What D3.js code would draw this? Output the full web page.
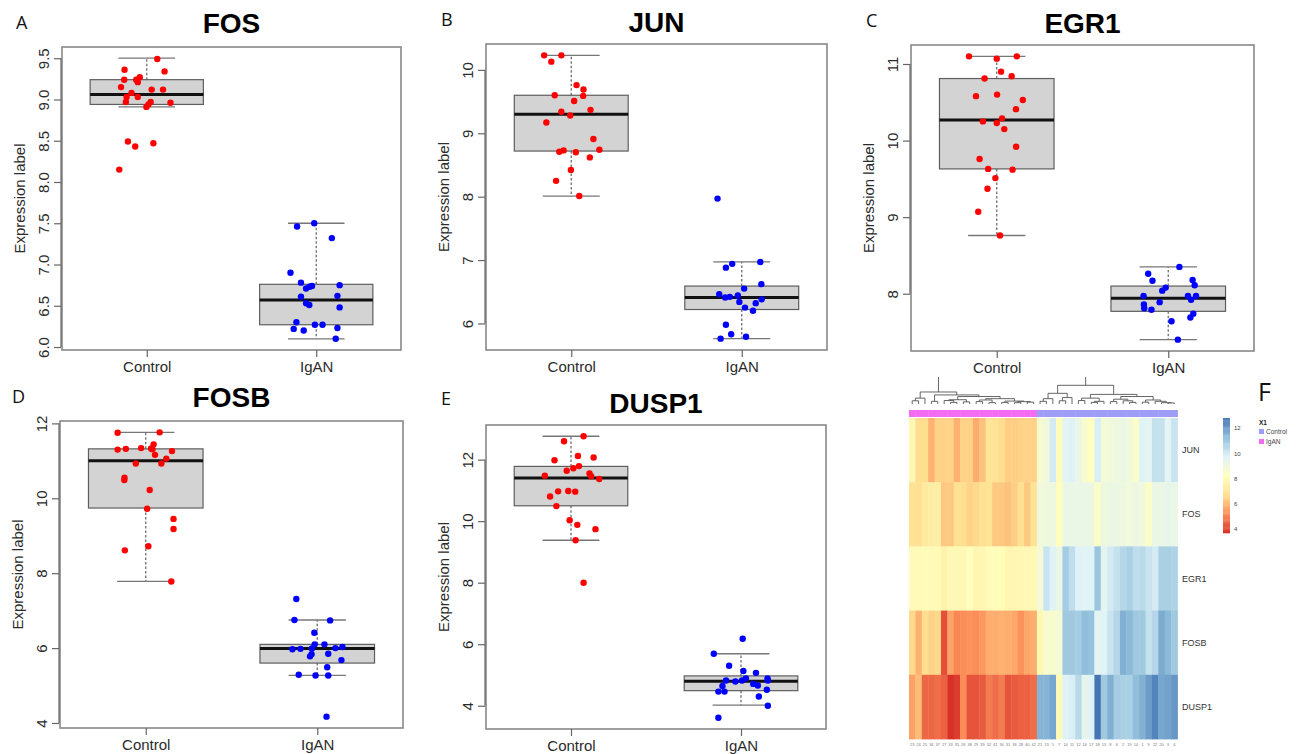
<!DOCTYPE html>
<html>
<head>
<meta charset="utf-8">
<script src="https://cdn.jsdelivr.net/npm/d3@7"></script>
<style>
  body { margin: 0; background: #fff; }
  svg { display: block; }
</style>
</head>
<body>
<svg id="fig" width="1302" height="754"></svg>
<script>
// ---------- Box plot data: [jitter offset (category units), expression] ----------
const groups = ["Control", "IgAN"];

const fosControlPts = [[0.062,9.49],[-0.131,9.36],[0.105,9.34],[-0.133,9.24],[-0.062,9.24],[-0.041,9.27],[-0.053,9.21],[-0.152,9.15],[0.029,9.12],[0.096,9.12],[-0.090,9.08],[-0.119,9.03],[-0.053,9.03],[-0.123,8.97],[0.023,8.97],[0.140,8.96],[0.010,8.94],[-0.002,8.91],[-0.111,8.49],[-0.068,8.43],[0.039,8.47],[-0.162,8.15]];
const fosIganPts = [[-0.012,7.50],[-0.113,7.46],[0.092,7.32],[-0.152,6.90],[-0.090,6.78],[-0.060,6.71],[-0.039,6.73],[-0.025,6.74],[0.138,6.75],[-0.090,6.61],[0.125,6.62],[-0.060,6.53],[-0.041,6.51],[0.138,6.48],[-0.117,6.30],[-0.008,6.27],[0.037,6.27],[-0.133,6.22],[-0.074,6.20],[0.125,6.23],[0.115,6.10]];
// [lower whisker, Q1, median, Q3, upper whisker]
const fosStats = [[8.91,8.94,9.06,9.24,9.50],[6.10,6.27,6.57,6.76,7.50]];
const fosTicks = [6.0,6.5,7.0,7.5,8.0,8.5,9.0,9.5];

const junControlPts = [[-0.159,10.23],[-0.058,10.23],[-0.117,10.13],[0.031,9.76],[0.072,9.69],[0.070,9.59],[-0.097,9.60],[0.017,9.51],[-0.058,9.34],[0.113,9.37],[-0.006,9.28],[-0.146,9.17],[0.130,8.91],[-0.070,8.71],[-0.045,8.73],[0.027,8.70],[0.165,8.74],[0.109,8.62],[-0.002,8.42],[-0.089,8.25],[0.047,8.01]];
const junIganPts = [[-0.142,7.97],[-0.093,6.88],[-0.056,6.94],[0.109,6.97],[0.115,6.62],[0.014,6.55],[-0.132,6.46],[-0.097,6.41],[-0.070,6.42],[-0.023,6.44],[-0.014,6.34],[0.019,6.25],[0.082,6.32],[0.117,6.38],[0.066,6.20],[-0.093,5.98],[-0.062,5.83],[-0.124,5.76],[0.025,5.79]];
const junStats = [[8.01,8.72,9.30,9.60,10.23],[5.76,6.22,6.41,6.59,6.97]];
const junTicks = [6,7,8,9,10];

const egr1ControlPts = [[-0.162,11.10],[0.117,11.10],[0.000,11.07],[0.025,10.90],[0.087,10.84],[-0.071,10.81],[-0.121,10.58],[0.002,10.60],[0.152,10.53],[0.112,10.41],[-0.081,10.25],[0.000,10.23],[0.031,10.29],[0.044,10.15],[0.113,9.92],[-0.100,9.76],[-0.050,9.63],[0.092,9.62],[-0.008,9.51],[-0.054,9.37],[-0.108,9.07],[0.019,8.76]];
const egr1IganPts = [[0.065,8.35],[-0.117,8.26],[-0.092,8.17],[0.142,8.18],[0.154,8.11],[-0.015,8.08],[-0.035,8.04],[-0.144,7.97],[0.115,7.97],[0.162,7.97],[0.133,7.92],[-0.050,7.89],[-0.142,7.86],[-0.140,7.81],[-0.098,7.79],[0.146,7.74],[0.129,7.69],[0.019,7.64],[0.056,7.40]];
const egr1Stats = [[8.76,9.63,10.27,10.81,11.10],[7.40,7.77,7.94,8.10,8.35]];
const egr1Ticks = [8,9,10,11];

const fosbControlPts = [[-0.164,11.75],[0.081,11.76],[-0.164,11.30],[-0.116,11.32],[-0.027,11.34],[0.031,11.33],[0.046,11.44],[0.039,11.31],[0.153,11.26],[0.054,11.16],[0.120,11.06],[-0.058,10.93],[0.091,10.93],[-0.124,10.55],[-0.125,10.49],[0.023,10.22],[0.008,9.72],[0.162,9.45],[0.162,9.18],[0.015,8.72],[-0.122,8.61],[0.149,7.78]];
const fosbIganPts = [[-0.122,7.31],[-0.133,6.75],[0.075,6.74],[-0.017,6.41],[-0.015,6.10],[0.042,6.10],[-0.145,5.97],[-0.098,5.98],[-0.031,5.99],[0.106,6.00],[0.147,6.03],[-0.033,5.84],[-0.042,5.78],[0.064,5.85],[0.141,5.68],[0.058,5.49],[-0.108,5.29],[-0.010,5.27],[0.064,5.27],[0.054,4.17]];
const fosbStats = [[7.78,9.74,11.00,11.32,11.76],[5.27,5.60,5.99,6.10,6.75]];
const fosbTicks = [4,6,8,10,12];

const dusp1ControlPts = [[0.074,12.76],[-0.041,12.60],[0.041,12.12],[-0.097,11.98],[0.133,12.07],[-0.025,11.64],[0.014,11.72],[0.047,11.79],[0.109,11.55],[0.119,11.46],[-0.154,11.48],[0.166,11.37],[-0.123,10.80],[-0.076,10.97],[-0.016,10.98],[0.025,10.96],[-0.086,10.49],[-0.008,10.03],[0.037,9.88],[0.144,9.74],[0.027,9.38],[0.074,8.00]];
const dusp1IganPts = [[0.010,6.18],[-0.160,5.69],[-0.070,5.30],[0.014,5.13],[0.088,5.07],[0.156,4.89],[-0.088,4.82],[-0.033,4.79],[0.006,4.82],[0.029,4.89],[0.072,4.71],[0.099,4.66],[-0.109,4.64],[0.158,4.82],[-0.133,4.46],[-0.097,4.46],[0.152,4.52],[0.105,4.30],[0.158,4.00],[-0.133,3.61]];
const dusp1Stats = [[9.38,10.50,11.40,11.78,12.76],[4.02,4.49,4.80,4.97,5.69]];
const dusp1Ticks = [4,6,8,10,12];

// ---------- Heatmap data (20 IgAN samples, then 22 Control samples) ----------
const heatGenes = ["JUN", "FOS", "EGR1", "FOSB", "DUSP1"];
const sampleIds = ["23","24","25","34","37","27","33","35","26","38","29","39","32","41","30","31","36","28","40","42",
                   "21","13","5","7","14","11","12","16","17","18","15","8","6","2","19","10","1","9","22","20","3","4"];
const sampleGroups = [...Array(20).fill("IgAN"), ...Array(22).fill("Control")];
const junExpr = [7.9,6.7,6.7,5.9,6.5,6.5,6.5,5.9,6.5,6.5,5.8,6.2,7.0,6.9,6.7,6.4,6.4,6.5,6.5,6.5,
                 8.7,9.0,10.0,8.1,9.6,9.8,9.3,8.6,8.3,9.9,8.9,9.0,9.1,9.2,9.0,8.5,9.7,9.6,10.3,10.3,9.6,10.2];
const fosExpr = [6.9,6.8,7.2,7.4,7.4,6.3,6.3,6.8,6.7,6.5,6.6,6.8,6.9,6.3,6.3,6.2,6.4,6.8,6.3,6.9,
                 9.0,9.1,9.1,8.2,9.3,9.3,9.3,9.3,9.2,8.5,9.1,9.2,9.2,9.1,9.0,9.2,9.0,8.5,9.3,9.3,9.4,9.3];
const egr1Expr = [8.0,8.0,8.1,8.0,8.0,7.6,7.9,7.9,7.9,8.2,7.8,7.8,8.1,8.1,8.1,7.8,7.8,7.9,7.9,7.9,
                  8.8,10.2,9.7,9.3,10.9,10.4,9.8,9.7,9.8,11.1,9.6,10.0,10.3,10.6,10.8,10.4,10.5,10.2,10.0,10.8,10.8,10.7];
const fosbExpr = [6.6,5.9,6.7,6.5,6.6,4.2,5.6,5.1,5.2,5.3,5.2,5.4,5.8,5.8,5.9,5.8,5.7,5.3,5.7,5.8,
                  7.9,8.6,8.6,8.8,11.0,11.0,10.9,11.3,11.2,9.6,9.7,10.2,10.6,11.6,11.4,11.0,11.0,10.3,10.6,11.7,11.4,11.0];
const dusp1Expr = [5.6,6.1,4.6,4.6,4.7,4.5,3.7,3.9,5.2,4.3,4.3,4.4,4.9,4.7,4.9,4.3,4.4,4.5,4.5,4.7,
                   11.5,11.5,11.8,8.0,9.8,9.9,10.5,9.5,9.7,12.8,11.0,11.6,10.9,10.8,10.8,11.3,11.6,12.0,12.5,11.8,11.9,12.1];
const colorTicks = [4, 6, 8, 10, 12];
const legendGroups = ["Control", "IgAN"];

// Column clustering: [merge height, left, right]; leaves are column indices
const igaTree = [4.5,
  [2.2, [1.2, 0, 1], 2],
  [3.4, [1.0, 3, 4],
    [2.8,
      [1.6, [1.3, 5, [0.6, 6, 7]], [0.8, 8, 9]],
      [2.0, [1.5, [0.9, 10, 11], [0.5, 12, 13]], [1.1, [0.6, 14, 15], [0.9, [0.5, 16, 17], [0.7, 18, 19]]]]]]];
const ctrlTree = [7.0,
  [4.0, [2.0, [1.0, 20, 21], 22], [2.4, [1.2, 23, 24], 25]],
  [3.6,
    [2.2, [1.3, 26, 27], [1.0, [0.6, 28, 29], 30]],
    [2.8,
      [1.8, [0.9, 31, 32], [1.2, 33, [0.6, 34, 35]]],
      [1.5, [0.7, 36, 37], [1.0, 38, [0.5, 39, [0.4, 40, 41]]]]]]];
const colTree = [12, igaTree, ctrlTree];

// ---------- Drawing ----------
const svg = d3.select("#fig");
const SANS = "'Liberation Sans', Arial, Helvetica, sans-serif";
const LETTER = "'Open Sans', 'Noto Sans', sans-serif";

const panels = [
  { letter: "A", title: "FOS",   pts: [fosControlPts, fosIganPts],     stats: fosStats,   ticks: fosTicks,   fmt: d3.format(".1f"),
    frame: { l: 62, t: 47, r: 401, b: 350 },  titleY: 33,  letterPos: [16, 29] },
  { letter: "B", title: "JUN",   pts: [junControlPts, junIganPts],     stats: junStats,   ticks: junTicks,   fmt: d3.format("d"),
    frame: { l: 486, t: 44, r: 827, b: 350 }, titleY: 32,  letterPos: [441, 26] },
  { letter: "C", title: "EGR1",  pts: [egr1ControlPts, egr1IganPts],   stats: egr1Stats,  ticks: egr1Ticks,  fmt: d3.format("d"),
    frame: { l: 911, t: 45, r: 1254, b: 351 }, titleY: 33, letterPos: [866, 27] },
  { letter: "D", title: "FOSB",  pts: [fosbControlPts, fosbIganPts],   stats: fosbStats,  ticks: fosbTicks,  fmt: d3.format("d"),
    frame: { l: 60, t: 421, r: 403, b: 728 }, titleY: 407, letterPos: [12, 403] },
  { letter: "E", title: "DUSP1", pts: [dusp1ControlPts, dusp1IganPts], stats: dusp1Stats, ticks: dusp1Ticks, fmt: d3.format("d"),
    frame: { l: 486, t: 425, r: 826, b: 729 }, titleY: 413, letterPos: [441, 405] }
];

const pointColors = ["#ff0000", "#0000ff"];

function drawBoxPanel(p) {
  const f = p.frame;
  const g = svg.append("g");
  const values = [...p.stats.flat(), ...p.pts.flat().map(d => d[1])];
  const [lo, hi] = d3.extent(values);
  const pad = (hi - lo) * 0.04;
  const y = d3.scaleLinear().domain([lo - pad, hi + pad]).range([f.b, f.t]);
  const x = d3.scaleLinear().domain([0.5, 2.5]).range([f.l, f.r]);
  const boxHalf = 0.334, capHalf = 0.167;

  // boxes, whiskers, medians
  p.stats.forEach((s, i) => {
    const c = i + 1;
    const [wl, q1, med, q3, wh] = s;
    const bg = g.append("g");
    bg.append("line").attr("x1", x(c)).attr("x2", x(c)).attr("y1", y(q3)).attr("y2", y(wh))
      .attr("stroke", "#6e6e6e").attr("stroke-width", 1.3).attr("stroke-dasharray", "2.5,2");
    bg.append("line").attr("x1", x(c)).attr("x2", x(c)).attr("y1", y(q1)).attr("y2", y(wl))
      .attr("stroke", "#6e6e6e").attr("stroke-width", 1.3).attr("stroke-dasharray", "2.5,2");
    [wl, wh].forEach(v => {
      bg.append("line").attr("x1", x(c - capHalf)).attr("x2", x(c + capHalf)).attr("y1", y(v)).attr("y2", y(v))
        .attr("stroke", "#777").attr("stroke-width", 1.3);
    });
    bg.append("rect").attr("x", x(c - boxHalf)).attr("width", x(c + boxHalf) - x(c - boxHalf))
      .attr("y", y(q3)).attr("height", y(q1) - y(q3))
      .attr("fill", "#d3d3d3").attr("stroke", "#5e5e5e").attr("stroke-width", 1.2);
    bg.append("line").attr("x1", x(c - boxHalf)).attr("x2", x(c + boxHalf)).attr("y1", y(med)).attr("y2", y(med))
      .attr("stroke", "#111").attr("stroke-width", 3);
  });

  // jittered points
  p.pts.forEach((arr, i) => {
    g.append("g").selectAll("circle").data(arr).join("circle")
      .attr("cx", d => x(i + 1 + d[0])).attr("cy", d => y(d[1])).attr("r", 3.2)
      .attr("fill", pointColors[i]);
  });

  // frame
  g.append("rect").attr("x", f.l).attr("y", f.t).attr("width", f.r - f.l).attr("height", f.b - f.t)
    .attr("fill", "none").attr("stroke", "#888").attr("stroke-width", 1.6);

  // y axis
  const ya = g.append("g").attr("transform", `translate(${f.l - 1},0)`)
    .call(d3.axisLeft(y).tickValues(p.ticks).tickSize(7).tickFormat(p.fmt));
  ya.select(".domain").remove();
  ya.append("line").attr("x1", 0).attr("x2", 0)
    .attr("y1", y(p.ticks[0])).attr("y2", y(p.ticks[p.ticks.length - 1]))
    .attr("stroke", "#666").attr("stroke-width", 1.2);
  ya.selectAll(".tick line").attr("stroke", "#666").attr("stroke-width", 1.2);
  ya.selectAll(".tick text")
    .attr("transform", "rotate(-90)").attr("x", 0).attr("y", -12).attr("dy", 0)
    .attr("text-anchor", "middle").attr("fill", "#2b2b2b")
    .style("font-family", SANS).style("font-size", "15px");

  // x axis
  const xa = g.append("g").attr("transform", `translate(0,${f.b})`)
    .call(d3.axisBottom(x).tickValues([1, 2]).tickSize(7).tickFormat(d => groups[d - 1]));
  xa.select(".domain").remove();
  xa.selectAll(".tick line").attr("stroke", "#666").attr("stroke-width", 1.2);
  xa.selectAll(".tick text").attr("y", 22).attr("dy", 0).attr("fill", "#2b2b2b")
    .style("font-family", SANS).style("font-size", "15px");

  // y axis title
  g.append("text").attr("transform", `translate(${f.l - 37},${(f.t + f.b) / 2}) rotate(-90)`)
    .attr("text-anchor", "middle").attr("fill", "#2b2b2b")
    .style("font-family", SANS).style("font-size", "15px").text("Expression label");

  // panel title and letter
  g.append("text").attr("x", (f.l + f.r) / 2).attr("y", p.titleY).attr("text-anchor", "middle")
    .attr("fill", "#000").style("font-family", SANS).style("font-weight", "bold").style("font-size", "28px")
    .text(p.title);
  g.append("text").attr("x", p.letterPos[0]).attr("y", p.letterPos[1]).attr("fill", "#111")
    .style("font-family", LETTER).style("font-size", "18px").text(p.letter);
}

panels.forEach(drawBoxPanel);

// ---------- Heatmap panel F ----------
(function drawHeatmap() {
  const hmX = [909, 1177.5], hmY = [418, 739];
  const exprRows = [junExpr, fosExpr, egr1Expr, fosbExpr, dusp1Expr];
  const xs = d3.scaleBand().domain(d3.range(sampleIds.length)).range(hmX);
  const ys = d3.scaleBand().domain(heatGenes).range(hmY);
  const [vmin, vmax] = d3.extent(exprRows.flat());
  const palette = ["#d73027", "#fc8d59", "#fee090", "#ffffbf", "#e0f3f8", "#91bfdb", "#4575b4"];
  const color = d3.scaleLinear()
    .domain(palette.map((_, i) => vmin + i * (vmax - vmin) / (palette.length - 1)))
    .range(palette).interpolate(d3.interpolateRgb);

  const g = svg.append("g");

  // cells
  heatGenes.forEach((gene, r) => {
    g.append("g").selectAll("rect").data(exprRows[r]).join("rect")
      .attr("x", (d, i) => xs(i)).attr("y", ys(gene))
      .attr("width", xs.bandwidth() + 0.4).attr("height", ys.bandwidth() + 0.4)
      .attr("fill", d => color(d));
  });

  // annotation bar
  const groupColor = d3.scaleOrdinal().domain(legendGroups).range(["#9d9cf6", "#f36cf2"]);
  g.append("g").selectAll("rect").data(sampleGroups).join("rect")
    .attr("x", (d, i) => xs(i)).attr("y", 410).attr("width", xs.bandwidth() + 0.4).attr("height", 7)
    .attr("fill", d => groupColor(d));

  // dendrogram
  const hy = d3.scaleLinear().domain([0, 1]).range([404, 401.33]);
  const dg = g.append("g");
  const clipId = "dendroClip";
  svg.append("defs").append("clipPath").attr("id", clipId)
    .append("rect").attr("x", 900).attr("y", 377).attr("width", 290).attr("height", 30);
  dg.attr("clip-path", `url(#${clipId})`);
  function layout(node) {
    if (typeof node === "number") return { x: xs(node) + xs.bandwidth() / 2, h: 0 };
    const [h, a, b] = node;
    const A = layout(a), B = layout(b);
    dg.append("path")
      .attr("d", `M${A.x},${hy(A.h)}V${hy(h)}H${B.x}V${hy(B.h)}`)
      .attr("fill", "none").attr("stroke", "#555").attr("stroke-width", 0.9);
    return { x: (A.x + B.x) / 2, h };
  }
  layout(colTree);

  // row labels
  g.append("g").selectAll("text").data(heatGenes).join("text")
    .attr("x", 1182).attr("y", d => ys(d) + ys.bandwidth() / 2 + 3)
    .attr("fill", "#333").style("font-family", SANS).style("font-size", "9px").text(d => d);

  // column labels
  g.append("g").selectAll("text").data(sampleIds).join("text")
    .attr("x", (d, i) => xs(i) + xs.bandwidth() / 2).attr("y", 746)
    .attr("text-anchor", "middle").attr("fill", "#777")
    .style("font-family", SANS).style("font-size", "4px").text(d => d);

  // colour key
  const ck = d3.scaleLinear().domain([vmin, vmax]).range([533, 418]);
  const steps = d3.range(100).map(i => vmin + (i + 0.5) * (vmax - vmin) / 100);
  const stepH = (ck(vmin) - ck(vmax)) / 100;
  g.append("g").selectAll("rect").data(steps).join("rect")
    .attr("x", 1223).attr("width", 7)
    .attr("y", d => ck(d) - stepH / 2).attr("height", stepH + 0.3)
    .attr("fill", d => color(d));
  g.append("g").selectAll("text").data(colorTicks).join("text")
    .attr("x", 1234).attr("y", d => ck(d) + 2.2)
    .attr("fill", "#444").style("font-family", SANS).style("font-size", "6px").text(d => d);

  // group legend
  g.append("text").attr("x", 1259).attr("y", 425).attr("fill", "#222")
    .style("font-family", SANS).style("font-size", "6.5px").style("font-weight", "bold").text("X1");
  legendGroups.forEach((grp, i) => {
    g.append("rect").attr("x", 1259).attr("y", 429 + i * 10).attr("width", 5).attr("height", 5)
      .attr("fill", groupColor(grp));
    g.append("text").attr("x", 1266).attr("y", 434 + i * 10).attr("fill", "#444")
      .style("font-family", SANS).style("font-size", "6.5px").text(grp);
  });

  // panel letter
  g.append("text").attr("x", 1258).attr("y", 401).attr("fill", "#111")
    .style("font-family", LETTER).style("font-size", "25px").text("F");
})();
</script>
</body>
</html>
